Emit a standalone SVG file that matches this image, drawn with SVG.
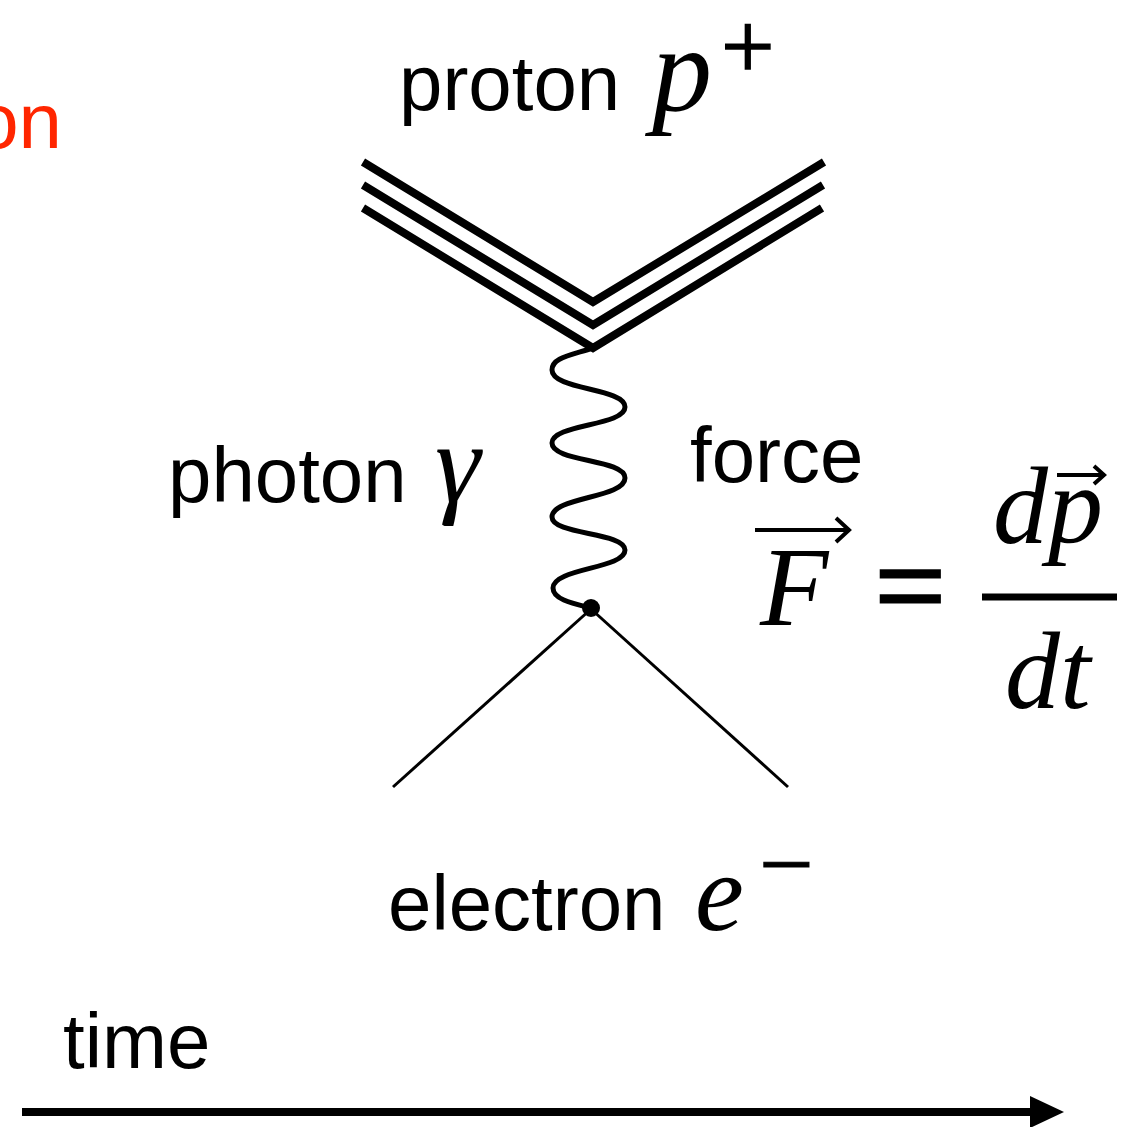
<svg xmlns="http://www.w3.org/2000/svg" width="1130" height="1127" viewBox="0 0 1130 1127">
<style>
.lbl{font-family:"Liberation Sans",Arial,sans-serif;font-size:78px;fill:#000}
.red{font-family:"Liberation Sans",Arial,sans-serif;font-size:78px;fill:#ff2600}
.math{font-family:"Liberation Serif","Times New Roman",serif;font-style:italic;fill:#000}
.sym{font-family:"Liberation Serif","Times New Roman",serif;fill:#000;stroke:#000}
.proton{fill:none;stroke:#000;stroke-width:8}
.thin{fill:none;stroke:#000;stroke-width:3}
.wave{fill:none;stroke:#000;stroke-width:5}
.vec{fill:none;stroke:#000;stroke-width:4}
</style>
<rect width="1130" height="1127" fill="#fff"/>
<g id="connectors">
  <g id="proton-lines">
    <polyline class="proton" points="363,162 593,302 824,162"/>
    <polyline class="proton" points="363,185 593,325 823,185"/>
    <polyline class="proton" points="363,208 593,348 822,208"/>
  </g>
  <path id="photon-line" class="wave" d="M593,348 C568,356 552,358 552,370 C552,390 625,388 625,407 C625,426 552,424 552,443 C552,462 625,459 625,478 C625,498 552,497 552,517 C552,535 625,532 625,550 C625,569 553,568 553,588 C553,600 575,604 591,608"/>
  <g id="electron-lines">
    <line class="thin" x1="591" y1="609" x2="393" y2="787"/>
    <line class="thin" x1="591" y1="609" x2="788" y2="787"/>
  </g>
  <g id="time-arrow">
    <line x1="22" y1="1112" x2="1034" y2="1112" stroke="#000" stroke-width="8"/>
    <polygon points="1030,1096 1064,1112 1030,1128" fill="#000"/>
  </g>
</g>
<g id="vertex">
  <circle cx="591" cy="608" r="9" fill="#000"/>
</g>
<g id="proton-label">
  <text class="lbl" x="399" y="110">proton</text>
  <text class="math" x="652" y="110" font-size="120">p</text>
  <text class="sym" x="721" y="78" font-size="95" stroke-width="1.5">+</text>
</g>
<g id="photon-label">
  <text class="lbl" x="168" y="502">photon</text>
  <text class="math" x="435" y="502" font-size="115">γ</text>
</g>
<g id="force-label">
  <text class="lbl" x="690" y="482">force</text>
  <text class="math" x="760" y="625" font-size="112">F</text>
  <path class="vec" d="M755,530 H848 M836,518 L849,530 L836,542"/>
  <text class="sym" x="875" y="628" font-size="125" stroke-width="3">=</text>
  <text class="math" x="993" y="543" font-size="110">dp</text>
  <path class="vec" d="M1057,475 H1103 M1094,466 L1104,475 L1094,484" stroke-width="3"/>
  <line x1="982" y1="597" x2="1117" y2="597" stroke="#000" stroke-width="7"/>
  <text class="math" x="1005" y="708" font-size="110">dt</text>
</g>
<g id="electron-label">
  <text class="lbl" x="388" y="930">electron</text>
  <text class="math" x="695" y="930" font-size="110">e</text>
  <text class="sym" x="759" y="897" font-size="97" stroke-width="1">−</text>
</g>
<g id="time-label">
  <text class="lbl" x="63" y="1068">time</text>
</g>
<g id="red-fragment">
  <text class="red" x="62" y="148" text-anchor="end">on</text>
</g>
</svg>
